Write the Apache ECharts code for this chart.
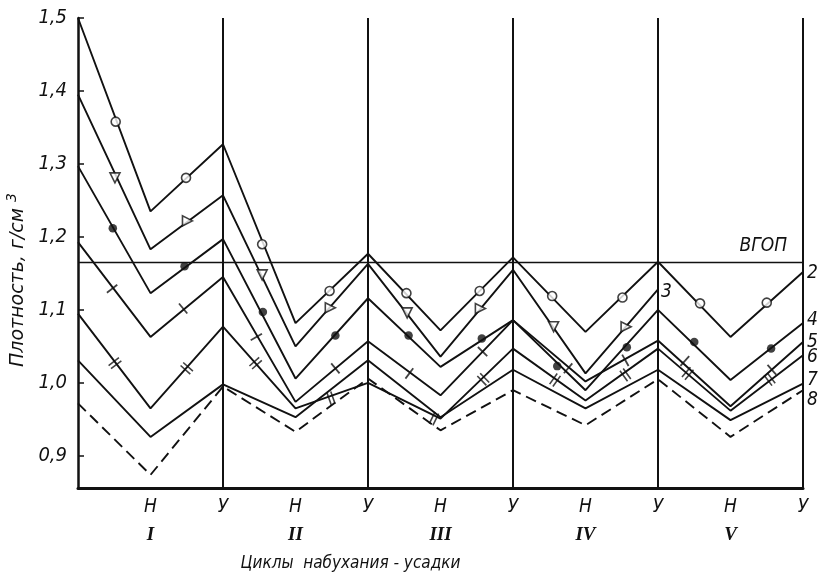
<!DOCTYPE html>
<html>
<head>
<meta charset="utf-8">
<script src="https://cdn.jsdelivr.net/npm/echarts@6/dist/echarts.min.js"></script>
<style>
  html, body { margin: 0; padding: 0; background: #fff; }
  #chart { width: 821px; height: 575px; }
</style>
</head>
<body>
<div id="chart"></div>
<script>
// Stages along the x axis: 0 = initial state, then Н (swelling) / У (shrinkage)
const stageLabels = ['', 'Н', 'У', 'Н', 'У', 'Н', 'У', 'Н', 'У', 'Н', 'У'];
const cycleLabels = ['I', 'II', 'III', 'IV', 'V'];
const yTicks = [0.9, 1.0, 1.1, 1.2, 1.3, 1.4, 1.5];
const vgop = 1.165;

// Density at each stage, g/cm3 (null = not measured)
const curve2 = [1.500, 1.235, 1.327, 1.082, 1.177, 1.072, 1.172, 1.070, 1.166, 1.063, 1.152];
const curve3 = [1.395, 1.183, 1.257, 1.050, 1.163, 1.036, 1.155, 1.013, 1.128, null, null];
const curve4 = [1.297, 1.123, 1.197, 1.006, 1.116, 1.022, 1.086, 0.990, 1.100, 1.004, 1.082];
const curve5 = [1.193, 1.063, 1.145, 0.974, 1.057, 0.983, 1.086, 1.002, 1.058, 0.968, 1.056];
const curve6 = [1.095, 0.965, 1.077, 0.965, 1.000, 0.951, 1.047, 0.976, 1.047, 0.962, 1.038];
const curve7 = [1.031, 0.926, 0.998, 0.953, 1.031, 0.953, 1.018, 0.965, 1.018, 0.949, 0.999];
const curve8 = [0.972, 0.874, 0.995, 0.933, 1.006, 0.935, 0.990, 0.942, 1.005, 0.926, 0.990];

// Intermediate measurements marked on the curves: [stage position, density]
const marks2 = [[0.52, 1.358], [1.49, 1.281], [2.54, 1.190], [3.47, 1.126], [4.53, 1.123],
                [5.54, 1.126], [6.54, 1.119], [7.51, 1.117], [8.58, 1.109], [9.50, 1.110]];
const marks3 = [[0.51, 1.281], [1.51, 1.222], [2.54, 1.148], [3.48, 1.103], [4.54, 1.096],
                [5.55, 1.102], [6.56, 1.077], [7.56, 1.077]];
const marks4 = [[0.48, 1.212], [1.47, 1.160], [2.55, 1.097], [3.55, 1.065], [4.56, 1.065],
                [5.57, 1.061], [6.61, 1.023], [7.57, 1.049], [8.50, 1.056], [9.56, 1.047]];
const marks5 = [[0.47, 1.129], [1.45, 1.102], [2.46, 1.063], [3.55, 1.020], [4.57, 1.013],
                [5.58, 1.043], [6.76, 1.020], [7.55, 1.031], [8.37, 1.030], [9.57, 1.018]];
const marks6 = [[0.51, 1.027], [1.50, 1.020], [2.45, 1.027], [3.49, 0.979], [4.91, 0.951],
                [5.59, 1.005], [6.58, 1.004], [7.55, 1.011], [8.41, 1.013], [9.54, 1.005]];

const INK = '#111';
const FONT = "'Liberation Sans Narrow', 'DejaVu Sans Condensed', 'Liberation Sans', sans-serif";

const markerKinds = {
  open: { symbol: 'circle', symbolSize: 9, itemStyle: { color: '#fff', borderColor: INK, borderWidth: 1.6 } },
  tri:  { symbol: 'triangle', symbolSize: 10, itemStyle: { color: '#fff', borderColor: INK, borderWidth: 1.6 } },
  dot:  { symbol: 'circle', symbolSize: 8.5, itemStyle: { color: INK } },
  bar:  { symbol: 'rect', symbolSize: [13, 1.8], itemStyle: { color: INK } },
  bar2: { symbol: 'path://M0,0H10V1.6H0Z M0,4H10V5.6H0Z', symbolSize: [13, 5.6], itemStyle: { color: INK } }
};

const curves = [
  { name: '2', nodes: curve2, marks: marks2, kind: 'open', labelOffset: [0, 1] },
  { name: '3', nodes: curve3, marks: marks3, kind: 'tri',  labelOffset: [-1, 3] },
  { name: '4', nodes: curve4, marks: marks4, kind: 'dot',  labelOffset: [0, -3] },
  { name: '5', nodes: curve5, marks: marks5, kind: 'bar',  labelOffset: [0, 0] },
  { name: '6', nodes: curve6, marks: marks6, kind: 'bar2', labelOffset: [0, 2] },
  { name: '7', nodes: curve7, marks: null,   kind: null,   labelOffset: [0, -4] },
  { name: '8', nodes: curve8, marks: null,   kind: null,   labelOffset: [0, 10], dashed: true }
];

const cycleEnds = stageLabels.map((s, i) => (s === 'У' ? i : null)).filter(v => v !== null);

const labelText = { color: INK, fontFamily: FONT, fontStyle: 'italic', fontSize: 19 };

function lineSeries(c) {
  return {
    type: 'line',
    id: 'line' + c.name,
    name: c.name,
    data: c.nodes.map((v, i) => [i, v]).filter(d => d[1] !== null),
    symbol: 'none',
    z: 3,
    silent: true,
    lineStyle: { color: INK, width: 1.9, type: c.dashed ? [11, 6] : 'solid' },
    endLabel: Object.assign({ show: true, formatter: c.name, distance: 4, offset: c.labelOffset }, labelText)
  };
}

function markerSeries(c) {
  const k = markerKinds[c.kind];
  return {
    type: 'scatter',
    id: 'marks' + c.name,
    data: c.marks.map(p => ({ value: p })),
    symbol: k.symbol,
    symbolSize: k.symbolSize,
    itemStyle: k.itemStyle,
    z: 5,
    silent: true
  };
}

const series = [];
series.push({
  type: 'line',
  id: 'vgop',
  data: [[0, vgop], [stageLabels.length - 1, vgop]],
  symbol: 'none',
  z: 2,
  silent: true,
  lineStyle: { color: INK, width: 1.3 },
  endLabel: Object.assign({ show: true, formatter: 'ВГОП', align: 'right', distance: 4, offset: [-20, -16] }, labelText),
  markLine: {
    silent: true,
    symbol: ['none', 'none'],
    label: { show: false },
    lineStyle: { color: INK, width: 2, type: 'solid' },
    data: cycleEnds.map(x => ({ xAxis: x }))
  }
});
curves.forEach(c => series.push(lineSeries(c)));
curves.filter(c => c.marks).forEach(c => series.push(markerSeries(c)));

const option = {
  animation: false,
  backgroundColor: '#fff',
  grid: { left: 78, right: 18, top: 18, bottom: 87, outerBoundsMode: 'none' },
  xAxis: {
    type: 'value',
    min: 0,
    max: stageLabels.length - 1,
    interval: 1,
    axisLine: { show: true, lineStyle: { color: INK, width: 3 } },
    axisTick: { show: false },
    splitLine: { show: false },
    axisLabel: {
      margin: 8,
      formatter: v => {
        const s = stageLabels[v];
        if (!s) return '';
        if (s === 'Н') return '{st|Н}\n{cy|' + cycleLabels[(v - 1) / 2] + '}';
        return '{st|' + s + '}';
      },
      rich: {
        st: { fontFamily: FONT, fontStyle: 'italic', fontSize: 19, color: INK, lineHeight: 22 },
        cy: { fontFamily: "'Liberation Serif', serif", fontStyle: 'italic', fontWeight: 'bold', fontSize: 19, color: INK, lineHeight: 34 }
      }
    },
    name: 'Циклы  набухания - усадки',
    nameLocation: 'middle',
    nameGap: 67,
    nameTextStyle: { fontFamily: FONT, fontStyle: 'italic', fontSize: 17, color: INK, padding: [0, 180, 0, 0] }
  },
  yAxis: {
    type: 'value',
    min: 0.856,
    max: 1.5,
    axisLine: { show: true, lineStyle: { color: INK, width: 2.5 } },
    axisTick: { show: true, inside: true, length: 6, customValues: yTicks, lineStyle: { color: INK, width: 1.5 } },
    splitLine: { show: false },
    axisLabel: {
      customValues: yTicks,
      margin: 11,
      formatter: v => v.toFixed(1).replace('.', ','),
      color: INK, fontFamily: FONT, fontStyle: 'italic', fontSize: 20
    },
    name: 'Плотность, г/см{sup|3}',
    nameLocation: 'middle',
    nameRotate: 90,
    nameGap: 45,
    nameTextStyle: {
      fontFamily: "'DejaVu Sans', sans-serif", fontStyle: 'italic', fontSize: 19, color: INK,
      padding: [0, 54, 0, 0],
      rich: { sup: { fontFamily: "'DejaVu Sans', sans-serif", fontStyle: 'italic', fontSize: 14, color: INK, verticalAlign: 'bottom', padding: [0, 0, 12, 6] } }
    }
  },
  series: series
};

const chart = echarts.init(document.getElementById('chart'), null, { renderer: 'canvas' });
chart.setOption(option);

// Orient the markers along their curve segments
function segmentAngle(nodes, x) {
  const i = Math.min(Math.floor(x), nodes.length - 2);
  const a = chart.convertToPixel({ gridIndex: 0 }, [i, nodes[i]]);
  const b = chart.convertToPixel({ gridIndex: 0 }, [i + 1, nodes[i + 1]]);
  return Math.atan2(a[1] - b[1], b[0] - a[0]) * 180 / Math.PI;
}

chart.setOption({
  series: curves.filter(c => c.marks).map(c => ({
    id: 'marks' + c.name,
    data: c.marks.map(p => {
      const ang = segmentAngle(c.nodes, p[0]);
      let rot = 0;
      if (c.kind === 'tri') rot = ang < 0 ? 180 : -90;
      else if (c.kind === 'bar' || c.kind === 'bar2') rot = ang + 90;
      return { value: p, symbolRotate: rot };
    })
  }))
});
</script>
</body>
</html>
